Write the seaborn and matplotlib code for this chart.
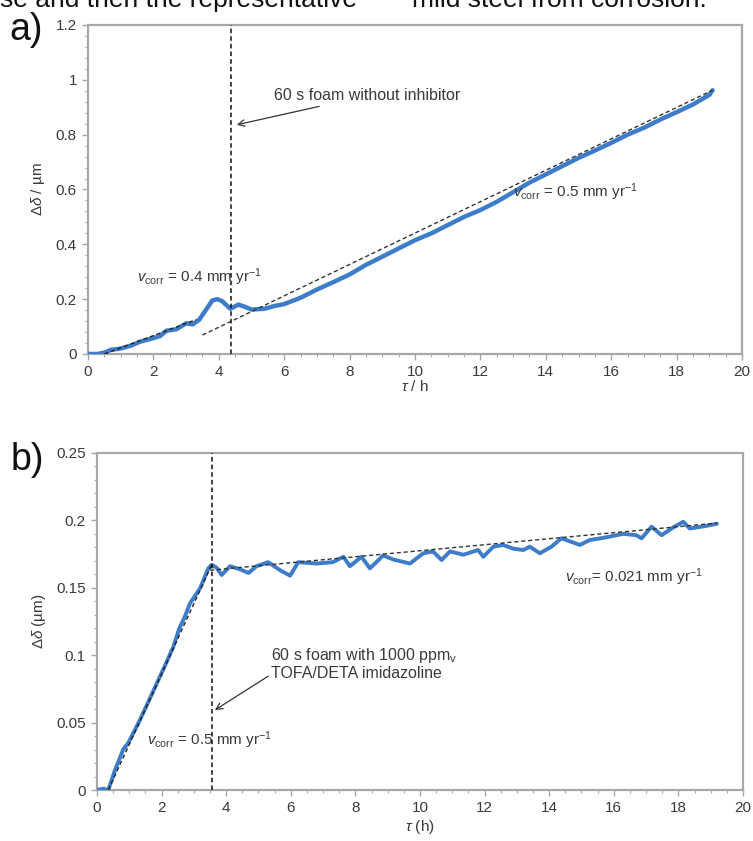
import numpy as np
import pandas as pd
import matplotlib
matplotlib.use("Agg")
import matplotlib.pyplot as plt
from matplotlib.ticker import MultipleLocator, FuncFormatter
import seaborn as sns

# ---------------- data ----------------
# panel a: foam without inhibitor
a_time = [0.0, 0.3, 0.5, 0.7, 1.0, 1.3, 1.6, 2.0, 2.2, 2.4, 2.7, 3.0, 3.2, 3.4, 3.6,
          3.8, 3.95, 4.1, 4.35, 4.6, 4.8, 5.0, 5.4, 5.7, 6.0, 6.5, 7.0, 7.5, 8.0, 8.5,
          9.0, 9.5, 10.0, 10.5, 11.0, 11.5, 12.0, 12.5, 13.0, 13.5, 14.0, 14.5, 15.0,
          15.5, 16.0, 16.5, 17.0, 17.5, 18.0, 18.5, 19.0, 19.1]
a_delta = [0.0, 0.0, 0.005, 0.015, 0.02, 0.03, 0.045, 0.058, 0.065, 0.085, 0.09, 0.112,
           0.108, 0.125, 0.16, 0.195, 0.2, 0.193, 0.165, 0.18, 0.172, 0.162, 0.165, 0.175,
           0.182, 0.205, 0.235, 0.262, 0.29, 0.325, 0.355, 0.385, 0.415, 0.44, 0.47, 0.5,
           0.525, 0.555, 0.59, 0.625, 0.655, 0.685, 0.715, 0.742, 0.77, 0.8, 0.825, 0.855,
           0.882, 0.91, 0.945, 0.962]
a_fit1_time = [0.5, 3.3]
a_fit1_delta = [0.0, 0.125]
a_fit2_time = [3.5, 19.1]
a_fit2_delta = [0.069, 0.962]
a_event_time = 4.37

# panel b: foam with inhibitor
b_time = [0.0, 0.2, 0.35, 0.56, 0.81, 0.97, 1.12, 1.33, 1.6, 1.85, 2.1, 2.36, 2.55, 2.72,
          2.88, 3.19, 3.45, 3.55, 3.7, 3.86, 4.12, 4.43, 4.69, 4.94, 5.3, 5.67, 5.98,
          6.23, 6.8, 7.3, 7.63, 7.83, 8.19, 8.45, 8.86, 9.17, 9.69, 10.1, 10.4, 10.67,
          10.93, 11.34, 11.8, 11.96, 12.27, 12.58, 12.89, 13.2, 13.4, 13.71, 14.07, 14.38,
          14.95, 15.26, 15.67, 16.29, 16.7, 16.86, 17.17, 17.48, 17.79, 18.15, 18.35,
          18.77, 19.19]
b_delta = [0.0, 0.001, 0.0, 0.015, 0.030, 0.035, 0.042, 0.052, 0.066, 0.079, 0.092, 0.106,
           0.12, 0.1286, 0.1385, 0.1496, 0.1645, 0.167, 0.165, 0.1595, 0.166, 0.1637,
           0.161, 0.166, 0.169, 0.163, 0.159, 0.169, 0.168, 0.169, 0.173, 0.166, 0.173,
           0.1644, 0.174, 0.171, 0.168, 0.1756, 0.177, 0.1706, 0.177, 0.1745, 0.178, 0.173,
           0.1805, 0.1817, 0.179, 0.178, 0.1805, 0.1756, 0.1805, 0.1867, 0.1818, 0.1855,
           0.187, 0.19, 0.189, 0.1867, 0.1953, 0.189, 0.194, 0.199, 0.194, 0.1955, 0.1975]
b_fit1_time = [0.35, 3.55]
b_fit1_delta = [0.0, 0.167]
b_fit2_time = [3.5, 19.2]
b_fit2_delta = [0.163, 0.198]
b_event_time = 3.55

x_ticks = [0, 2, 4, 6, 8, 10, 12, 14, 16, 18, 20]

# ---------------- style ----------------
sns.set_theme(style="white")
plt.rcParams['font.family'] = ['Liberation Sans', 'DejaVu Sans']
plt.rcParams['mathtext.fontset'] = 'custom'
plt.rcParams['mathtext.rm'] = 'Liberation Sans'
plt.rcParams['mathtext.it'] = 'Liberation Sans:italic'

BLUE = "#3d7cc9"
SPINE = "#a8a8a8"
TXT = "#3a3a3a"

fig = plt.figure(figsize=(7.53, 8.41), dpi=100)
ax_a = fig.add_axes([0.1169, 0.5791, 0.8685, 0.3912])
ax_b = fig.add_axes([0.1288, 0.0606, 0.8579, 0.4008])

df_a = pd.DataFrame({"t": a_time, "d": a_delta})
df_b = pd.DataFrame({"t": b_time, "d": b_delta})


def style_axes(ax, ymax, ymajor, yminor, yfmt):
    ax.set_xlim(0, 20)
    ax.set_ylim(0, ymax)
    ax.set_xticks(x_ticks)
    ax.xaxis.set_minor_locator(MultipleLocator(0.5))
    ax.yaxis.set_major_locator(MultipleLocator(ymajor))
    ax.yaxis.set_minor_locator(MultipleLocator(yminor))
    ax.yaxis.set_major_formatter(FuncFormatter(yfmt))
    for s in ax.spines.values():
        s.set_color(SPINE)
        s.set_linewidth(1.6)
    ax.tick_params(axis='both', which='major', direction='out', length=4, width=1,
                   color=SPINE, labelsize=11, labelcolor=TXT, pad=4)
    ax.tick_params(axis='both', which='minor', direction='out', length=2.5, width=0.8,
                   color=SPINE)
    ax.tick_params(left=True, bottom=True, which='both')


def fmt_a(v, pos):
    return "%g" % round(v, 2)


def fmt_b(v, pos):
    return "%g" % round(v, 3)


# ---------------- panel a ----------------
sns.lineplot(data=df_a, x="t", y="d", ax=ax_a, color=BLUE, linewidth=3.2,
             estimator=None, sort=False, zorder=3)
sns.lineplot(x=a_fit1_time, y=a_fit1_delta, ax=ax_a, color="#222222", linewidth=1.0,
             linestyle=(0, (3, 2)), estimator=None, zorder=4)
sns.lineplot(x=a_fit2_time, y=a_fit2_delta, ax=ax_a, color="#333333", linewidth=1.0,
             linestyle=(0, (3, 2)), estimator=None, zorder=4)
ax_a.axvline(a_event_time, color="#111111", linewidth=1.1, linestyle=(0, (3, 2)), zorder=5)
style_axes(ax_a, 1.2, 0.2, 0.04, fmt_a)
ax_a.set_xlabel(r"$\it{\tau}$ / h", fontsize=11, color=TXT, labelpad=0)
ax_a.set_ylabel(r"$\Delta\it{\delta}$ / µm", fontsize=11, color=TXT, labelpad=6)
ax_a.annotate("60 s foam without inhibitor", xy=(4.55, 0.836), xytext=(5.7, 0.915),
              fontsize=11.5, color=TXT, ha='left', va='bottom',
              arrowprops=dict(arrowstyle="->", color="#333333", lw=0.9,
                              shrinkA=0, shrinkB=0))
ax_a.text(1.5, 0.28, r"$v_{\rm corr}$ = 0.4 mm yr$^{-1}$", fontsize=11, color=TXT,
          ha='left', va='center')
ax_a.text(13.0, 0.59, r"$v_{\rm corr}$ = 0.5 mm yr$^{-1}$", fontsize=11, color=TXT,
          ha='left', va='center')

# ---------------- panel b ----------------
sns.lineplot(data=df_b, x="t", y="d", ax=ax_b, color=BLUE, linewidth=2.8,
             estimator=None, sort=False, zorder=3)
sns.lineplot(x=b_fit1_time, y=b_fit1_delta, ax=ax_b, color="#222222", linewidth=1.0,
             linestyle=(0, (3, 2)), estimator=None, zorder=4)
sns.lineplot(x=b_fit2_time, y=b_fit2_delta, ax=ax_b, color="#333333", linewidth=1.0,
             linestyle=(0, (3, 2)), estimator=None, zorder=4)
ax_b.axvline(b_event_time, color="#111111", linewidth=1.1, linestyle=(0, (3, 2)), zorder=5)
style_axes(ax_b, 0.25, 0.05, 0.01, fmt_b)
ax_b.set_xlabel(r"$\it{\tau}$ (h)", fontsize=11, color=TXT, labelpad=2)
ax_b.set_ylabel(r"$\Delta\it{\delta}$ (µm)", fontsize=11, color=TXT, labelpad=6)
ax_b.annotate("60 s foam with 1000 ppm$_{\\rm v}$\nTOFA/DETA imidazoline",
              xy=(3.65, 0.0593), xytext=(5.4, 0.1065), fontsize=11.5, color=TXT,
              ha='left', va='top', linespacing=1.05,
              arrowprops=dict(arrowstyle="->", color="#333333", lw=0.9,
                              shrinkA=0, shrinkB=0, relpos=(0.0, 0.2)))
ax_b.text(1.55, 0.037, r"$v_{\rm corr}$ = 0.5 mm yr$^{-1}$", fontsize=11, color=TXT,
          ha='left', va='center')
ax_b.text(14.5, 0.158, r"$v_{\rm corr}$= 0.021 mm yr$^{-1}$", fontsize=11, color=TXT,
          ha='left', va='center')

for ax in (ax_a, ax_b):
    labs = ax.get_yticklabels()
    labs[-1].set_fontsize(8.5)

# panel letters
fig.text(0.012, 1 - 40 / 841, "a)", fontsize=27, color="#111111", ha='left', va='baseline')
fig.text(0.014, 1 - 470 / 841, "b)", fontsize=27, color="#111111", ha='left', va='baseline')

# clipped caption line at top (only lower part visible in reference)
fig.text(0.0, 1.0 - 7 / 841, "se and then the representative",
         fontsize=19, color="#111111", ha='left', va='baseline')
fig.text(412 / 753, 1.0 - 7 / 841, "mild steel from corrosion.",
         fontsize=19, color="#111111", ha='left', va='baseline')

fig.savefig("out.png", dpi=100, facecolor="white")
